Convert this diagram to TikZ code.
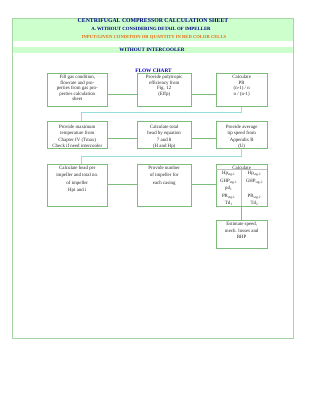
\documentclass[tikz,border=0pt]{standalone}
\usepackage{fontspec}
\setmainfont{Liberation Serif}
\definecolor{framegreen}{RGB}{165,212,165}
\definecolor{boxgreen}{RGB}{125,188,125}
\definecolor{hdrfill}{RGB}{204,255,204}
\definecolor{linkcyan}{RGB}{150,222,222}
\definecolor{navytxt}{RGB}{0,0,128}
\definecolor{orangetxt}{RGB}{235,105,15}
\definecolor{flowblue}{RGB}{0,0,205}
\begin{document}
\begin{tikzpicture}[x=1pt,y=-1pt,
  fbox/.style={draw=boxgreen,line width=0.8pt,inner sep=0pt},
  btxt/.style={anchor=north,inner sep=0pt,align=center,text=black!85,font=\fontsize{4.9}{#1}\selectfont},
  hdr/.style={inner sep=0pt,font=\bfseries\fontsize{#1}{#1}\selectfont,text=navytxt},
  glink/.style={draw=boxgreen,line width=0.8pt},
  clink/.style={draw=linkcyan,line width=0.8pt},
  sep/.style={draw=black!25,line width=0.5pt}]
\useasboundingbox (0,0) rectangle (309,400);
% header bands and frame
\fill[hdrfill] (12.7,18) rectangle (293,41);
\fill[hdrfill] (12.7,47) rectangle (293,53.3);
\draw[framegreen,line width=1pt] (12.7,18) rectangle (293,338);
\node[hdr=5.8] (h1) at (153,21) {CENTRIFUGAL COMPRESSOR CALCULATION SHEET};
\node[hdr=4.8] (h2) at (151,29.3) {A. WITHOUT CONSIDERING DETAIL OF IMPELLER};
\node[hdr=4.6,text=orangetxt] (h3) at (154,37) {INPUT/GIVEN CONDITION OR QUANTITY IN RED COLOR CELLS};
\node[hdr=5.1] (h4) at (152,50.3) {WITHOUT INTERCOOLER};
\node[hdr=5.3,text=flowblue] (h5) at (153.5,71) {FLOW CHART};
% boxes
\node[fbox,minimum width=60pt,minimum height=33.4pt] (b1) at (77.3,90) {};
\node[fbox,minimum width=53.7pt,minimum height=33.4pt] (b2) at (164.2,90) {};
\node[fbox,minimum width=51.3pt,minimum height=33.4pt] (b3) at (241.7,90) {};
\node[fbox,minimum width=60pt,minimum height=27pt] (b4) at (77.3,135.2) {};
\node[fbox,minimum width=53.7pt,minimum height=27pt] (b5) at (164.2,135.2) {};
\node[fbox,minimum width=51.3pt,minimum height=27pt] (b6) at (241.7,135.2) {};
\node[fbox,minimum width=60pt,minimum height=42pt] (b7) at (77.3,185) {};
\node[fbox,minimum width=53.7pt,minimum height=42pt] (b8) at (164.2,185) {};
\node[fbox,minimum width=51.3pt,minimum height=42pt] (b9) at (241.7,185) {};
\node[fbox,minimum width=51.3pt,minimum height=28.3pt] (b10) at (241.7,234.2) {};
% box 9 inner separators
\coordinate (s1) at (216,169.7);
\coordinate (s2) at (267.3,169.7);
\coordinate (s3) at (241.5,169.7);
\draw[sep] (s1) -- (s2);
\draw[sep] (s3) -- (s3 |- b9.south);
% texts
\node[btxt=5.5] (t1) at (77.3,75) {Fill gas condition,\\flowrate and pro-\\perties from gas pro-\\perties calculation\\sheet};
\node[btxt=5.5] (t2) at (164.2,75) {Provide polytropic\\efficiency from\\Fig. 12\\(Effp)};
\node[btxt=5.5] (t3) at (241.7,75) {Calculate\\PR\\(n-1) / n\\n / (n-1)};
\node[btxt=6.4] (t4) at (77.3,124.9) {Provide maximum\\temperature from\\Chapter IV (Tmax)\\Check if need intercooler};
\node[btxt=6.4] (t5) at (164.2,124.9) {Calculate total\\head by equation\\7 and 8\\(H and Hp)};
\node[btxt=6.4] (t6) at (241.7,124.9) {Provide average\\tip speed from\\Appendix B\\(U)};
\node[btxt=7.4] (t7) at (77.3,165.8) {Calculate head per\\impeller and total no.\\of impeller\\Hpi and i};
\node[btxt=7.4] (t8) at (164.2,165.8) {Provide number\\of impeller for\\each casing};
\node[btxt=7.4] (t9) at (241.7,165.4) {Calculate};
\node[btxt=7.4] (t9a) at (228.7,171.5) {Hp\textsubscript{stg-1}\\GHP\textsubscript{stg-1}\\pd\textsubscript{1}\\PR\textsubscript{stg-1}\\Td\textsubscript{1}};
\node[btxt=7.4] (t9b) at (254.4,171.5) {Hp\textsubscript{stg-2}\\GHP\textsubscript{stg-2}\\\mbox{}\\PR\textsubscript{stg-2}\\Td\textsubscript{2}};
\node[btxt=6.7] (t10) at (241.7,221.8) {Estimate speed,\\mech. losses and\\BHP};
% connectors
\coordinate (r1) at (0,94);
\coordinate (r2) at (0,138);
\coordinate (r3) at (0,184.5);
\draw[glink] (b1.east |- r1) -- (b2.west |- r1);
\draw[glink] (b2.east |- r1) -- (b3.west |- r1);
\draw[glink] (b4.east |- r2) -- (b5.west |- r2);
\draw[glink] (b5.east |- r2) -- (b6.west |- r2);
\draw[glink] (b7.east |- r3) -- (b8.west |- r3);
\draw[glink] (b8.east |- r3) -- (b9.west |- r3);
\coordinate (k1) at (81.7,112.7);
\coordinate (k2) at (81.7,156);
\draw[clink] (b3.south) |- (k1) -- (k1 |- b4.north);
\draw[clink] (b6.south) |- (k2) -- (k2 |- b7.north);
\draw[glink] (s3 |- b9.south) -- (s3 |- b10.north);
\end{tikzpicture}
\end{document}
